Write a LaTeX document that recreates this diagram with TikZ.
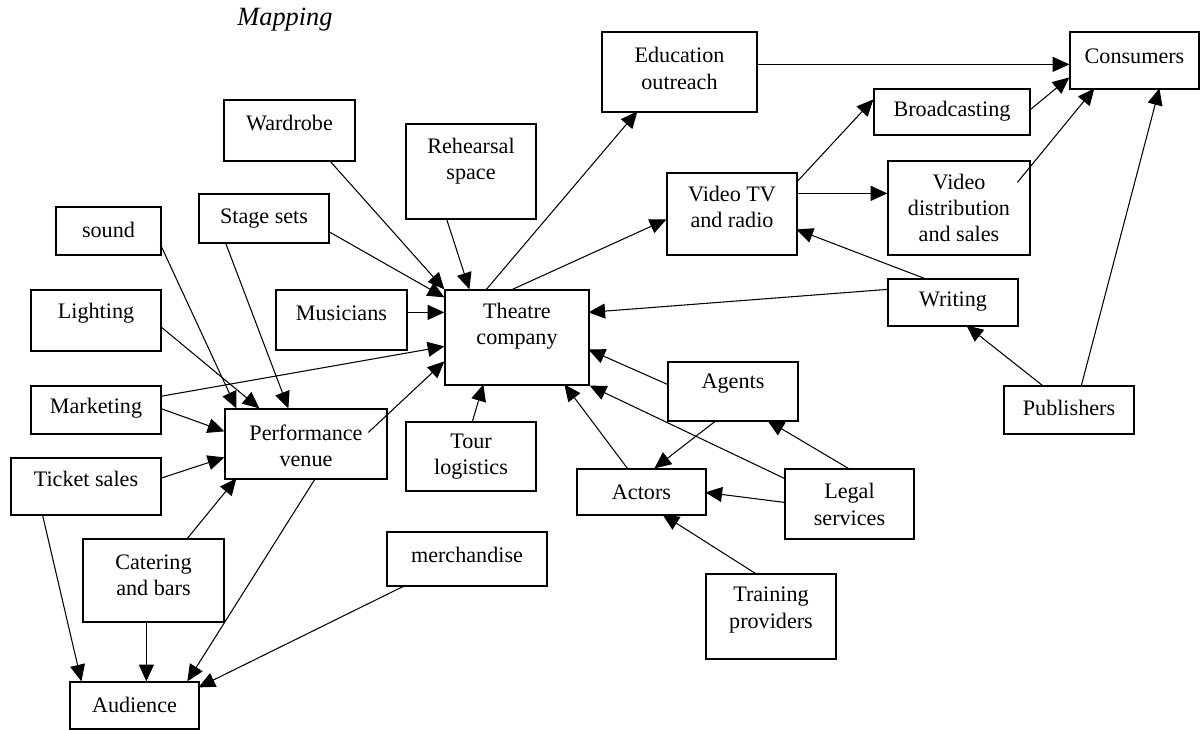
\documentclass[tikz,border=0pt]{standalone}
\usepackage{fontspec}
\setmainfont{Liberation Serif}
\usetikzlibrary{arrows.meta}
% box: name, centre x, centre y, width, height, text y, text
\newcommand\pbox[7]{%
  \node[box,minimum width={#4*0.02cm},minimum height={#5*0.02cm}] (#1) at (#2,#3) {};
  \node[boxtext] (#1-text) at (#2,#6) {#7};
}
\begin{document}
\begin{tikzpicture}[x=0.02cm,y=-0.02cm,
  box/.style={draw,line width=0.7pt,inner sep=0pt,rectangle},
  boxtext/.style={inner sep=0pt,align=center,font=\fontsize{12.6}{15}\selectfont},
  arr/.style={line width=0.6pt,-{Triangle[length=9.5pt,width=8.5pt]}},
]
\useasboundingbox (0,0) rectangle (1201,730);

\node[font=\fontsize{15}{18}\selectfont\itshape] (title) at (285,20) {Mapping};

% boxes
\pbox{wardrobe}{289.5}{130.5}{131}{61}{123}{Wardrobe}
\pbox{rehearsal}{471}{171.5}{130}{95}{161}{Rehearsal\\space}
\pbox{sound}{108.5}{231}{105}{48}{230}{sound}
\pbox{stagesets}{264}{218.5}{130}{49}{219}{Stage sets}
\pbox{lighting}{96}{320.5}{130}{61}{313}{Lighting}
\pbox{musicians}{341.5}{320}{131}{60}{313}{Musicians}
\pbox{theatre}{517}{337.5}{144}{95}{326.5}{Theatre\\company}
\pbox{marketing}{96}{410}{130}{48}{408}{Marketing}
\pbox{venue}{306}{444}{162}{70}{445.5}{Performance\\venue}
\pbox{ticket}{86}{486.5}{150}{57}{479}{Ticket sales}
\pbox{tour}{471}{456.5}{130}{69}{456.5}{Tour\\logistics}
\pbox{catering}{153.5}{580.5}{141}{83}{575}{Catering\\and bars}
\pbox{merch}{467}{559}{160}{54}{555}{merchandise}
\pbox{audience}{134.5}{705.5}{129}{47}{705}{Audience}
\pbox{edu}{679.5}{72}{155}{80}{68.5}{Education\\outreach}
\pbox{consumers}{1134.5}{60.5}{129}{57}{56}{Consumers}
\pbox{broadcasting}{952}{112}{156}{46}{111}{Broadcasting}
\pbox{videotv}{732}{214}{130}{82}{207}{Video TV\\and radio}
\pbox{videodist}{959}{208}{142}{94}{208}{Video\\distribution\\and sales}
\pbox{writing}{953}{302.5}{130}{47}{302}{Writing}
\pbox{agents}{733}{391.5}{130}{59}{384}{Agents}
\pbox{publishers}{1069}{410}{130}{48}{408}{Publishers}
\pbox{actors}{641.5}{492}{129}{46}{492}{Actors}
\pbox{legal}{849.5}{504}{129}{70}{504.5}{Legal\\services}
\pbox{training}{771}{616.5}{130}{85}{610}{Training\\providers}

% into the theatre company
\draw[arr] ([shift={(106,61)}]wardrobe.north west) -- (theatre.north west);
\draw[arr] ([shift={(130,38)}]stagesets.north west) -- ([shift={(0,8)}]theatre.north west);
\draw[arr] ([shift={(41,95)}]rehearsal.north west) -- ([shift={(25,0)}]theatre.north west);
\draw[arr] ([shift={(131,23)}]musicians.north west) -- ([shift={(0,23)}]theatre.north west);
\draw[arr] ([shift={(130,11)}]marketing.north west) -- ([shift={(0,57)}]theatre.north west);
\draw[arr] ([shift={(144,24)}]venue.north west) -- ([shift={(0,72)}]theatre.north west);
\draw[arr] ([shift={(67,0)}]tour.north west) -- ([shift={(39,95)}]theatre.north west);
\draw[arr] ([shift={(0,11)}]writing.north west) -- ([shift={(144,23)}]theatre.north west);
\draw[arr] ([shift={(0,23)}]agents.north west) -- ([shift={(144,60)}]theatre.north west);
\draw[arr] ([shift={(0,10)}]legal.north west) -- (theatre.south east);
\draw[arr] ([shift={(51,0)}]actors.north west) -- ([shift={(120,95)}]theatre.north west);

% out of the theatre company
\draw[arr] ([shift={(42,0)}]theatre.north west) -- ([shift={(36,80)}]edu.north west);
\draw[arr] ([shift={(68,0)}]theatre.north west) -- ([shift={(0,47)}]videotv.north west);

% actors, agents, legal, training
\draw[arr] ([shift={(49,59)}]agents.north west) -- ([shift={(78,0)}]actors.north west);
\draw[arr] ([shift={(64,0)}]legal.north west) -- ([shift={(100,59)}]agents.north west);
\draw[arr] ([shift={(0,34)}]legal.north west) -- ([shift={(129,24)}]actors.north west);
\draw[arr] ([shift={(50,0)}]training.north west) -- ([shift={(86,46)}]actors.north west);

% writing, publishers, media, consumers
\draw[arr] ([shift={(37,0)}]writing.north west) -- ([shift={(130,57)}]videotv.north west);
\draw[arr] ([shift={(39,0)}]publishers.north west) -- ([shift={(79,47)}]writing.north west);
\draw[arr] ([shift={(78,0)}]publishers.north west) -- ([shift={(90,57)}]consumers.north west);
\draw[arr] ([shift={(155,33)}]edu.north west) -- ([shift={(0,33)}]consumers.north west);
\draw[arr] ([shift={(156,22)}]broadcasting.north west) -- ([shift={(0,46)}]consumers.north west);
\draw[arr] ([shift={(130,22)}]videodist.north west) -- ([shift={(25,57)}]consumers.north west);
\draw[arr] ([shift={(130,10)}]videotv.north west) -- ([shift={(0,11)}]broadcasting.north west);
\draw[arr] ([shift={(130,21)}]videotv.north west) -- ([shift={(0,33)}]videodist.north west);

% into the performance venue
\draw[arr] ([shift={(105,38)}]sound.north west) -- ([shift={(12,0)}]venue.north west);
\draw[arr] ([shift={(130,37)}]lighting.north west) -- ([shift={(35,0)}]venue.north west);
\draw[arr] ([shift={(27,49)}]stagesets.north west) -- ([shift={(64,0)}]venue.north west);
\draw[arr] ([shift={(130,23)}]marketing.north west) -- ([shift={(0,23)}]venue.north west);
\draw[arr] ([shift={(150,21)}]ticket.north west) -- ([shift={(0,49)}]venue.north west);
\draw[arr] ([shift={(105,0)}]catering.north west) -- ([shift={(12,70)}]venue.north west);

% into the audience
\draw[arr] ([shift={(91,70)}]venue.north west) -- ([shift={(118,0)}]audience.north west);
\draw[arr] ([shift={(32,57)}]ticket.north west) -- ([shift={(12,0)}]audience.north west);
\draw[arr] ([shift={(64,83)}]catering.north west) -- ([shift={(77,0)}]audience.north west);
\draw[arr] ([shift={(19,54)}]merch.north west) -- ([shift={(129,6)}]audience.north west);
\end{tikzpicture}
\end{document}
